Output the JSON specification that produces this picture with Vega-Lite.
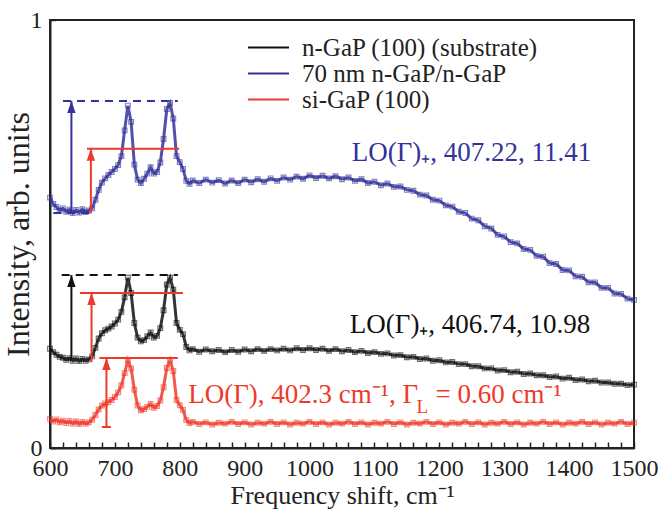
{
"$schema": "https://vega.github.io/schema/vega-lite/v6.json",
"width": 584, "height": 428,
"autosize": {"type": "none"},
"padding": {"left": 50, "top": 20, "right": 25, "bottom": 73},
"background": "white",
"config": {
 "view": {"stroke": "#222222", "strokeWidth": 2},
 "font": "Liberation Serif",
 "axis": {"labelOverlap": false, "labelFlush": false, "grid": false, "tickSize": -6, "tickColor": "#222222", "tickWidth": 1.5,
  "domainColor": "#222222", "domainWidth": 2, "labelFont": "Liberation Serif", "labelFontSize": 24, "labelColor": "#222222",
  "labelPadding": 14, "titleFont": "Liberation Serif", "titleFontWeight": "normal", "titleColor": "#222222"},
 "axisX": {"titleFontSize": 26, "titlePadding": 2},
 "axisY": {"titleFontSize": 32, "titlePadding": -5}
},
"datasets": {
"spec": [
{"x":600,"k":0.232,"b":0.585,"r":0.068},{"x":605,"k":0.224,"b":0.570,"r":0.062},{"x":610,"k":0.218,"b":0.563,"r":0.067},{"x":615,"k":0.213,"b":0.555,"r":0.060},{"x":620,"k":0.211,"b":0.560,"r":0.064},{"x":625,"k":0.206,"b":0.552,"r":0.058},{"x":630,"k":0.210,"b":0.557,"r":0.063},{"x":635,"k":0.204,"b":0.549,"r":0.057},{"x":640,"k":0.209,"b":0.556,"r":0.062},{"x":645,"k":0.203,"b":0.550,"r":0.056},{"x":650,"k":0.208,"b":0.558,"r":0.061},{"x":655,"k":0.204,"b":0.551,"r":0.057},{"x":660,"k":0.207,"b":0.555,"r":0.060},{"x":665,"k":0.214,"b":0.560,"r":0.066},{"x":670,"k":0.234,"b":0.580,"r":0.077},{"x":675,"k":0.256,"b":0.603,"r":0.090},{"x":680,"k":0.268,"b":0.620,"r":0.099},{"x":685,"k":0.275,"b":0.630,"r":0.104},{"x":690,"k":0.279,"b":0.638,"r":0.107},{"x":695,"k":0.284,"b":0.645,"r":0.112},{"x":700,"k":0.291,"b":0.652,"r":0.119},{"x":705,"k":0.300,"b":0.661,"r":0.130},{"x":710,"k":0.318,"b":0.682,"r":0.146},{"x":715,"k":0.352,"b":0.742,"r":0.175},{"x":720,"k":0.398,"b":0.800,"r":0.205},{"x":725,"k":0.362,"b":0.762,"r":0.186},{"x":730,"k":0.292,"b":0.662,"r":0.136},{"x":735,"k":0.258,"b":0.627,"r":0.099},{"x":740,"k":0.249,"b":0.619,"r":0.088},{"x":745,"k":0.252,"b":0.629,"r":0.091},{"x":750,"k":0.261,"b":0.641,"r":0.096},{"x":755,"k":0.270,"b":0.656,"r":0.103},{"x":760,"k":0.258,"b":0.641,"r":0.094},{"x":765,"k":0.262,"b":0.645,"r":0.098},{"x":770,"k":0.280,"b":0.667,"r":0.111},{"x":775,"k":0.322,"b":0.722,"r":0.142},{"x":780,"k":0.382,"b":0.792,"r":0.187},{"x":785,"k":0.398,"b":0.806,"r":0.205},{"x":790,"k":0.370,"b":0.770,"r":0.180},{"x":795,"k":0.292,"b":0.682,"r":0.112},{"x":800,"k":0.276,"b":0.668,"r":0.100},{"x":805,"k":0.266,"b":0.652,"r":0.089},{"x":810,"k":0.236,"b":0.624,"r":0.065},{"x":815,"k":0.228,"b":0.617,"r":0.058},{"x":820,"k":0.231,"b":0.625,"r":0.061},
{"x":830,"k":0.225,"b":0.619,"r":0.056},{"x":840,"k":0.230,"b":0.627,"r":0.060},{"x":850,"k":0.226,"b":0.620,"r":0.055},{"x":860,"k":0.229,"b":0.626,"r":0.059},{"x":870,"k":0.224,"b":0.618,"r":0.057},{"x":880,"k":0.229,"b":0.625,"r":0.061},{"x":890,"k":0.225,"b":0.619,"r":0.056},{"x":900,"k":0.230,"b":0.627,"r":0.060},{"x":910,"k":0.226,"b":0.621,"r":0.055},{"x":920,"k":0.231,"b":0.628,"r":0.059},{"x":930,"k":0.227,"b":0.622,"r":0.057},{"x":940,"k":0.231,"b":0.630,"r":0.061},{"x":950,"k":0.228,"b":0.624,"r":0.056},{"x":960,"k":0.232,"b":0.632,"r":0.060},{"x":970,"k":0.228,"b":0.627,"r":0.055},{"x":980,"k":0.233,"b":0.634,"r":0.059},{"x":990,"k":0.229,"b":0.629,"r":0.057},{"x":1000,"k":0.233,"b":0.637,"r":0.061},{"x":1010,"k":0.229,"b":0.631,"r":0.056},{"x":1020,"k":0.232,"b":0.636,"r":0.060},{"x":1030,"k":0.227,"b":0.630,"r":0.055},{"x":1040,"k":0.231,"b":0.635,"r":0.059},{"x":1050,"k":0.226,"b":0.628,"r":0.057},{"x":1060,"k":0.229,"b":0.632,"r":0.061},{"x":1070,"k":0.224,"b":0.624,"r":0.056},{"x":1080,"k":0.227,"b":0.628,"r":0.060},{"x":1090,"k":0.222,"b":0.619,"r":0.055},{"x":1100,"k":0.224,"b":0.622,"r":0.059},
{"x":1110,"k":0.220,"b":0.614,"r":0.057},{"x":1120,"k":0.221,"b":0.618,"r":0.061},{"x":1130,"k":0.216,"b":0.610,"r":0.056},{"x":1140,"k":0.217,"b":0.611,"r":0.060},{"x":1150,"k":0.212,"b":0.603,"r":0.055},{"x":1160,"k":0.213,"b":0.601,"r":0.059},{"x":1170,"k":0.208,"b":0.592,"r":0.057},{"x":1180,"k":0.209,"b":0.590,"r":0.061},{"x":1190,"k":0.204,"b":0.580,"r":0.056},{"x":1200,"k":0.205,"b":0.578,"r":0.060},{"x":1210,"k":0.200,"b":0.567,"r":0.055},{"x":1220,"k":0.201,"b":0.564,"r":0.059},{"x":1230,"k":0.196,"b":0.552,"r":0.057},{"x":1240,"k":0.196,"b":0.549,"r":0.061},{"x":1250,"k":0.191,"b":0.536,"r":0.056},{"x":1260,"k":0.191,"b":0.532,"r":0.060},{"x":1270,"k":0.186,"b":0.518,"r":0.055},{"x":1280,"k":0.186,"b":0.513,"r":0.059},{"x":1290,"k":0.181,"b":0.498,"r":0.057},{"x":1300,"k":0.182,"b":0.494,"r":0.061},
{"x":1310,"k":0.177,"b":0.481,"r":0.056},{"x":1320,"k":0.178,"b":0.478,"r":0.060},{"x":1330,"k":0.173,"b":0.465,"r":0.055},{"x":1340,"k":0.174,"b":0.463,"r":0.059},{"x":1350,"k":0.170,"b":0.449,"r":0.057},{"x":1360,"k":0.170,"b":0.447,"r":0.061},{"x":1370,"k":0.166,"b":0.432,"r":0.056},{"x":1380,"k":0.167,"b":0.430,"r":0.060},{"x":1390,"k":0.162,"b":0.416,"r":0.055},{"x":1400,"k":0.164,"b":0.415,"r":0.059},{"x":1410,"k":0.159,"b":0.401,"r":0.057},{"x":1420,"k":0.160,"b":0.400,"r":0.061},{"x":1430,"k":0.156,"b":0.387,"r":0.056},{"x":1440,"k":0.157,"b":0.387,"r":0.060},{"x":1450,"k":0.153,"b":0.374,"r":0.055},{"x":1460,"k":0.153,"b":0.374,"r":0.059},{"x":1470,"k":0.150,"b":0.361,"r":0.057},{"x":1480,"k":0.150,"b":0.360,"r":0.061},{"x":1490,"k":0.147,"b":0.349,"r":0.056},{"x":1500,"k":0.148,"b":0.346,"r":0.059}
],
"dash": [{"s":"b","x":620,"x2":797,"y":0.811},{"s":"b","x":605,"x2":662,"y":0.549},{"s":"k","x":618,"x2":797,"y":0.404}],
"solid": [{"s":"r","x":657,"x2":799,"y":0.699},{"s":"r","x":646,"x2":805,"y":0.362},{"s":"r","x":676,"x2":797,"y":0.210},{"s":"r","x":680,"x2":694,"y":0.049}],
"arrows": [{"s":"b","x":633,"y":0.549,"y2":0.811},{"s":"r","x":663,"y":0.549,"y2":0.699},{"s":"k","x":633,"y":0.206,"y2":0.404},{"s":"r","x":664,"y":0.201,"y2":0.362},{"s":"r","x":687,"y":0.049,"y2":0.210}],
"labels": [{"s":"b","x":1065,"y":0.689,"t":"LO(Γ)₊, 407.22, 11.41"},{"s":"k","x":1062,"y":0.287,"t":"LO(Γ)₊, 406.74, 10.98"},{"s":"r","x":813,"y":0.125,"t":"LO(Γ), 402.3 cm⁻¹, Γ"},{"s":"r","x":1194,"y":0.125,"t":"= 0.60 cm⁻¹"}],
"subs": [{"s":"r","x":1165,"y":0.096,"t":"L"}]
},
"layer": [
{"data":{"name":"spec"},"transform":[{"fold":["k","b","r"],"as":["s","v"]}],
 "mark":{"type":"line","strokeWidth":3,"opacity":0.85},
 "encoding":{
  "x":{"field":"x","type":"quantitative","scale":{"domain":[600,1500],"nice":false,"zero":false},
   "axis":{"values":[600,620,640,660,680,700,720,740,760,780,800,820,840,860,880,900,920,940,960,980,1000,1020,1040,1060,1080,1100,1120,1140,1160,1180,1200,1220,1240,1260,1280,1300,1320,1340,1360,1380,1400,1420,1440,1460,1480,1500],
    "tickCount":100,"labelExpr":"datum.value % 100 === 0 ? datum.label : ''","format":"d","labelOverlap":false,
    "title":"Frequency shift, cm⁻¹"}},
  "y":{"field":"v","type":"quantitative","scale":{"domain":[0,1],"nice":false},
   "axis":{"values":[0,0.5,1],"tickCount":10,"labelExpr":"datum.value === 0.5 ? '' : datum.label","format":"d","labelOverlap":false,
    "title":"Intensity, arb. units"}},
  "color":{"field":"s","type":"nominal","scale":{"domain":["k","b","r"],"range":["#111111","#32329a","#ee3a2a"]},
   "legend":{"orient":"none","legendX":206,"legendY":15,"title":null,"symbolType":"M-3,0L3,0","symbolSize":187,"symbolStrokeWidth":2,"symbolOpacity":1,
    "labelFont":"Liberation Serif","labelFontSize":25,"labelColor":"#222222","labelOffset":21,"rowPadding":0,"labelLimit":500,
    "labelExpr":"datum.value === 'k' ? 'n-GaP (100) (substrate)' : datum.value === 'b' ? '70 nm n-GaP/n-GaP' : 'si-GaP (100)'"}}
 }},
{"data":{"name":"spec"},"transform":[{"fold":["k","b","r"],"as":["s","v"]}],
 "mark":{"type":"point","shape":"square","filled":false,"size":22,"strokeWidth":1.2,"opacity":0.6},
 "encoding":{"x":{"field":"x","type":"quantitative"},"y":{"field":"v","type":"quantitative"},"color":{"field":"s","type":"nominal","legend":null}}},
{"data":{"name":"dash"},"mark":{"type":"rule","strokeDash":[8,6],"strokeWidth":2},
 "encoding":{"x":{"field":"x","type":"quantitative"},"x2":{"field":"x2"},"y":{"field":"y","type":"quantitative"},"color":{"field":"s","type":"nominal","legend":null}}},
{"data":{"name":"solid"},"mark":{"type":"rule","strokeWidth":2},
 "encoding":{"x":{"field":"x","type":"quantitative"},"x2":{"field":"x2"},"y":{"field":"y","type":"quantitative"},"color":{"field":"s","type":"nominal","legend":null}}},
{"data":{"name":"arrows"},"mark":{"type":"rule","strokeWidth":2},
 "encoding":{"x":{"field":"x","type":"quantitative"},"y":{"field":"y","type":"quantitative"},"y2":{"field":"y2"},"color":{"field":"s","type":"nominal","legend":null}}},
{"data":{"name":"arrows"},"mark":{"type":"point","shape":"M0,0L0.7,2L-0.7,2Z","filled":true,"size":144,"opacity":1,"strokeWidth":0},
 "encoding":{"x":{"field":"x","type":"quantitative"},"y":{"field":"y2","type":"quantitative"},"color":{"field":"s","type":"nominal","legend":null}}},
{"data":{"name":"labels"},"mark":{"type":"text","align":"left","baseline":"middle","font":"Liberation Serif","fontSize":27},
 "encoding":{"x":{"field":"x","type":"quantitative"},"y":{"field":"y","type":"quantitative"},"text":{"field":"t"},"color":{"field":"s","type":"nominal","legend":null}}},
{"data":{"name":"subs"},"mark":{"type":"text","align":"left","baseline":"middle","font":"Liberation Serif","fontSize":19},
 "encoding":{"x":{"field":"x","type":"quantitative"},"y":{"field":"y","type":"quantitative"},"text":{"field":"t"},"color":{"field":"s","type":"nominal","legend":null}}}
]
}
